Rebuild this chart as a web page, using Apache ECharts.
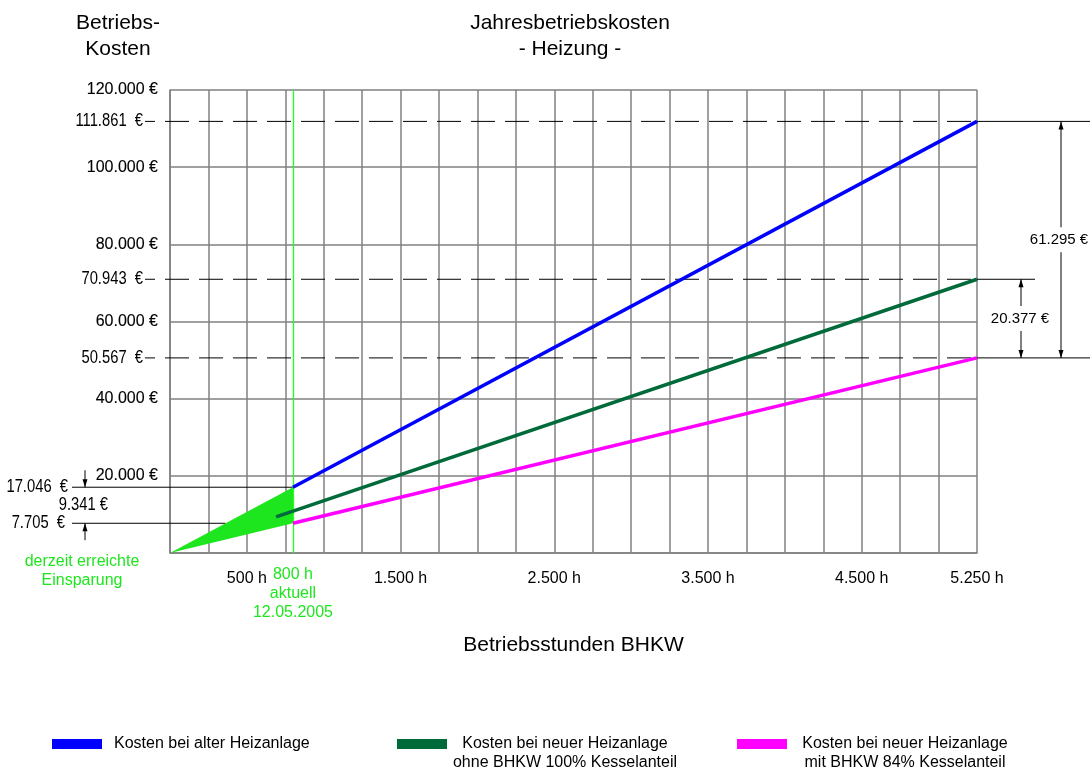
<!DOCTYPE html>
<html><head><meta charset="utf-8">
<script src="https://cdn.jsdelivr.net/npm/echarts@6/dist/echarts.min.js"></script>
<style>html,body{margin:0;padding:0;background:#fff}#c{width:1090px;height:769px}</style>
</head><body><div id="c"></div>
<script>
const FONT = '"Liberation Sans", Arial, sans-serif';

// ---- data ----
const xMin = 0, xMax = 5250, xStep = 250;
const yMin = 0, yMax = 120000, yStep = 20000;
const xTickLabels = {500: '500 h', 1500: '1.500 h', 2500: '2.500 h', 3500: '3.500 h', 4500: '4.500 h', 5250: '5.250 h'};
const currentHours = 800;
const currentLabel = ['800 h', 'aktuell', '12.05.2005'];
const altKosten = [[800, 17046], [5250, 111861]];
const ohneBHKW = [[690, 9341], [5250, 70943]];
const mitBHKW = [[800, 7705], [5250, 50567]];
const einsparung = [[0, 0], [800, 17046], [800, 7705]];
const endValues = [111861, 70943, 50567];
const startValues = [17046, 9341, 7705];
const differences = [61295, 20377];
const seriesNames = ['Kosten bei alter Heizanlage', 'Kosten bei neuer Heizanlage\nohne BHKW 100% Kesselanteil', 'Kosten bei neuer Heizanlage\nmit BHKW 84% Kesselanteil'];
const colors = ['#0000ff', '#006a3a', '#ff00ff'];
const GREEN = '#1ee61e';

const fmt = v => String(v).replace(/\B(?=(\d{3})+(?!\d))/g, '.');

const chart = echarts.init(document.getElementById('c'), null, {renderer: 'canvas'});
const gridL = 170, gridR = 113, gridT = 90, gridB = 216;

function legendFor(i, left) {
  const multi = seriesNames[i].indexOf('\n') >= 0;
  return {
    data: [seriesNames[i]], left: left, top: 736, padding: 0,
    icon: 'rect', itemWidth: 50, itemHeight: 10, selectedMode: false,
    formatter: multi ? (n => n.split('\n').map(s => '{a|' + s + '}').join('\n')) : (n => '{b|' + n + '}'),
    textStyle: {
      fontFamily: FONT, fontSize: 16, color: '#000',
      padding: multi ? [19, 0, 0, 0] : 0,
      rich: {
        a: {fontFamily: FONT, fontSize: 16, color: '#000', width: 226, align: 'center', lineHeight: 19},
        b: {fontFamily: FONT, fontSize: 16, color: '#000', padding: [0, 0, 0, 7]}
      }
    }
  };
}

const option = {
  animation: false,
  backgroundColor: '#fff',
  title: [
    {text: 'Jahresbetriebskosten\n- Heizung -', left: 565, top: 5, textAlign: 'center',
     textStyle: {fontFamily: FONT, fontSize: 21, fontWeight: 'normal', color: '#000', lineHeight: 26}},
    {text: 'Betriebs-\nKosten', left: 113, top: 5, textAlign: 'center',
     textStyle: {fontFamily: FONT, fontSize: 21, fontWeight: 'normal', color: '#000', lineHeight: 26}}
  ],
  legend: [legendFor(0, 52), legendFor(1, 397), legendFor(2, 737)],
  grid: {left: gridL, right: gridR, top: gridT, bottom: gridB},
  xAxis: {
    type: 'value', min: xMin, max: xMax, interval: xStep,
    name: 'Betriebsstunden BHKW', nameLocation: 'middle', nameGap: 82,
    nameTextStyle: {fontFamily: FONT, fontSize: 21, color: '#000'},
    axisLine: {show: true, lineStyle: {color: '#808080', width: 1.5}},
    axisTick: {show: false},
    splitLine: {show: true, lineStyle: {color: '#808080', width: 1.5}},
    axisLabel: {formatter: v => xTickLabels[v] || '', fontFamily: FONT, fontSize: 16, color: '#000', margin: 18}
  },
  yAxis: {
    type: 'value', min: yMin, max: yMax, interval: yStep,
    axisLine: {show: true, lineStyle: {color: '#808080', width: 1.5}},
    axisTick: {show: false},
    splitLine: {show: true, lineStyle: {color: '#808080', width: 1.5}},
    axisLabel: {formatter: v => v === 0 ? '' : fmt(v) + ' €', fontFamily: FONT, fontSize: 16, color: '#000', margin: 12,
                textBorderColor: '#000', textBorderWidth: 0.12}
  },
  series: [
    {
      type: 'custom', name: 'Einsparung', data: einsparung, silent: true, z: 3,
      renderItem: (params, api) => {
        if (params.dataIndex !== 0) return null;
        return {type: 'polygon', shape: {points: einsparung.map(p => api.coord(p))}, style: {fill: GREEN}};
      },
      markLine: {
        silent: true, symbol: ['none', 'none'],
        lineStyle: {color: '#22ff22', width: 1.3, type: 'solid'},
        label: {show: true, position: 'start', distance: 12, formatter: currentLabel.join('\n'),
                fontFamily: FONT, fontSize: 16, lineHeight: 19, color: GREEN},
        data: [{xAxis: currentHours}]
      }
    },
    {type: 'line', name: seriesNames[0], data: altKosten, symbol: 'none', z: 5, color: colors[0], lineStyle: {color: colors[0], width: 3.5}},
    {type: 'line', name: seriesNames[1], data: ohneBHKW, symbol: 'none', z: 5, color: colors[1], lineStyle: {color: colors[1], width: 3.5}},
    {type: 'line', name: seriesNames[2], data: mitBHKW, symbol: 'none', z: 5, color: colors[2], lineStyle: {color: colors[2], width: 3.5}}
  ]
};
chart.setOption(option);

// ---- annotations computed from the chart's own scales ----
const px = (x, y) => chart.convertToPixel({gridIndex: 0}, [x, y]);
const g = [];
const line = (x1, y1, x2, y2, extra) => g.push(Object.assign({type: 'line', silent: true, z: 1,
  shape: {x1, y1, x2, y2}, style: {stroke: '#000', lineWidth: 1}}, extra || {}));
const text = (t, x, y, align, font, fill, extra) => g.push({type: 'text', silent: true, z: 10,
  style: Object.assign({text: t, x, y, align, verticalAlign: 'middle', font, fill: fill || '#000'}, extra || {})});
// narrow (horizontally compressed) label
const ntext = (t, x, y, align) => g.push({type: 'text', silent: true, z: 10, x: x, y: y, scaleX: 0.82, scaleY: 1,
  style: {text: t, x: 0, y: 0, align, verticalAlign: 'middle', font: '18px ' + FONT, fill: '#000'}});
const arrow = (x, yTip, dir) => g.push({type: 'polygon', silent: true, z: 10,
  shape: {points: [[x, yTip], [x - 2.5, yTip + dir * 8], [x + 2.5, yTip + dir * 8]]}, style: {fill: '#000'}});

const xR = px(xMax, 0)[0];
const x0 = px(xMin, 0)[0];
// dashed reference lines with labels
endValues.forEach(v => {
  const y = px(xMax, v)[1];
  g.push({type: 'line', silent: true, z: 1, shape: {x1: x0 - 25, y1: y, x2: xR, y2: y},
          style: {stroke: '#000', lineWidth: 1, lineDash: [24, 10], lineDashOffset: 14}});
  ntext(fmt(v) + '  €', x0 - 27, y, 'right');
});
// right side extension lines
const yA = px(xMax, endValues[0])[1], yB = px(xMax, endValues[1])[1], yC = px(xMax, endValues[2])[1];
line(xR, yA, xR + 113, yA);
line(xR, yB, xR + 58, yB);
line(xR, yC, xR + 113, yC);
// dimension lines
const dx1 = xR + 84, dx2 = xR + 44;
line(dx1, yA, dx1, yC);
arrow(dx1, yA, 1); arrow(dx1, yC, -1);
text(fmt(differences[0]) + ' €', dx1 - 2, (yA + yC) / 2, 'center', '15px ' + FONT, '#000', {backgroundColor: '#fff', padding: [5, 0]});
line(dx2, yB, dx2, yC);
arrow(dx2, yB, 1); arrow(dx2, yC, -1);
text(fmt(differences[1]) + ' €', dx2 - 1, (yB + yC) / 2, 'center', '15px ' + FONT, '#000', {backgroundColor: '#fff', padding: [5, 0]});

// left side start value annotations
const pTop = px(altKosten[0][0], startValues[0]);
const yBot = px(0, startValues[2])[1];
const xBotEnd = px(einsparung[1][0] * startValues[2] / einsparung[1][1], startValues[2])[0];
line(72, pTop[1], pTop[0], pTop[1]);
line(72, yBot, xBotEnd, yBot);
line(85, pTop[1] - 17, 85, pTop[1]); arrow(85, pTop[1], -1);
line(85, yBot, 85, yBot + 17); arrow(85, yBot, 1);
ntext(fmt(startValues[0]) + '  €', 68, pTop[1], 'right');
ntext(fmt(startValues[1]) + ' €', 108, (pTop[1] + yBot) / 2, 'right');
ntext(fmt(startValues[2]) + '  €', 65, yBot, 'right');
text('derzeit erreichte\nEinsparung', 82, 571, 'center', '16px ' + FONT, GREEN, {lineHeight: 19});

chart.setOption({graphic: {elements: g}});
</script></body></html>
